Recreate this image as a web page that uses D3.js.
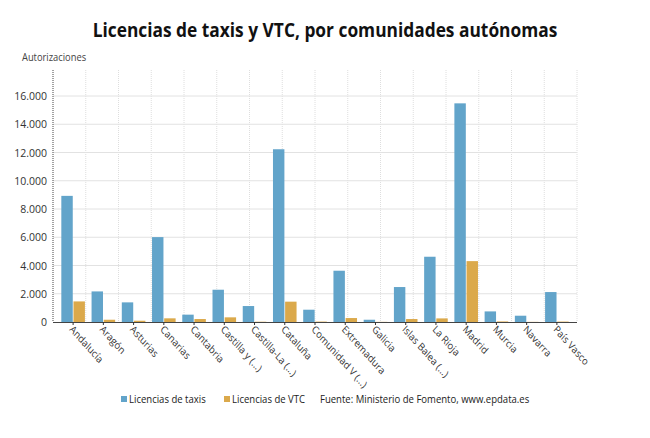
<!DOCTYPE html>
<html>
<head>
<meta charset="utf-8">
<script src="https://cdn.jsdelivr.net/npm/d3@7"></script>
<style>
  body { margin: 0; background: #fff; }
  svg { font-family: 'Open Sans', sans-serif; }
</style>
</head>
<body>
<div id="chart"></div>
<script>
const width = 650
const height = 438

const regions = ['Andalucía', 'Aragón', 'Asturias', 'Canarias', 'Cantabria', 'Castilla y (...)',
  'Castilla-La (...)', 'Cataluña', 'Comunidad V (...)', 'Extremadura', 'Galicia', 'Islas Balea (...)',
  'La Rioja', 'Madrid', 'Murcia', 'Navarra', 'País Vasco']
const taxis = [8930, 2165, 1390, 6010, 520, 2285, 1130, 12230, 870, 3630, 160, 2475, 4620, 15480, 750, 445, 2120]
const vtc = [1457, 160, 90, 260, 210, 330, 20, 1440, 30, 280, 10, 210, 255, 4310, 40, 10, 30]
const series = ['Licencias de taxis', 'Licencias de VTC']
const yTicks = [0, 2000, 4000, 6000, 8000, 10000, 12000, 14000, 16000]
const colors = ['#62a4ca', '#dba94b']
const source = 'Fuente: Ministerio de Fomento, www.epdata.es'

const plot = { left: 53, right: 577, top: 70, bottom: 322 }
const squeeze = 0.89 // text in the original is a bit narrow

const svg = d3.select('#chart').append('svg')
  .attr('width', width)
  .attr('height', height)

svg.append('text')
  .attr('transform', `translate(325,37) scale(${squeeze},1)`)
  .attr('text-anchor', 'middle')
  .attr('font-size', 19.5).attr('font-weight', 700)
  .attr('fill', '#111')
  .text('Licencias de taxis y VTC, por comunidades autónomas')

svg.append('text')
  .attr('transform', `translate(22,61) scale(${squeeze},1)`)
  .attr('font-size', 10.5).attr('fill', '#444')
  .text('Autorizaciones')

const y = d3.scaleLinear().domain([0, 16000]).range([plot.bottom, 96])
const x = d3.scaleBand().domain(regions).range([58, 572]).paddingInner(0.22).paddingOuter(0.11)
const xs = d3.scaleBand().domain(series).range([0, x.bandwidth()]).paddingInner(0.06)

// vertical grid (evenly spaced, independent of categories)
const vgrid = d3.range(17).map(i => plot.left + i * (plot.right - plot.left) / 16)
svg.append('g').selectAll('line')
  .data(vgrid)
  .enter().append('line')
    .attr('x1', d => d).attr('x2', d => d)
    .attr('y1', plot.top).attr('y2', plot.bottom)
    .attr('stroke', '#dedede').attr('stroke-dasharray', '1,1')

svg.append('g').selectAll('line')
  .data(yTicks.slice(1))
  .enter().append('line')
    .attr('x1', plot.left).attr('x2', plot.right)
    .attr('y1', d => y(d)).attr('y2', d => y(d))
    .attr('stroke', '#e2e2e2')

const fmt = d3.formatLocale({ decimal: ',', thousands: '.', grouping: [3], currency: ['', '€'] }).format(',')

svg.append('g').selectAll('text')
  .data(yTicks)
  .enter().append('text')
    .attr('x', 47).attr('y', d => y(d) + 4)
    .attr('text-anchor', 'end')
    .attr('font-size', 10.5).attr('fill', '#333')
    .text(d => fmt(d))

// bars
const groups = svg.append('g').selectAll('g')
  .data(regions.map((r, i) => ({ r, v: [taxis[i], vtc[i]] })))
  .enter().append('g')
    .attr('transform', d => `translate(${x(d.r)},0)`)

groups.selectAll('rect')
  .data(d => d.v.map((v, j) => ({ s: series[j], v, j })))
  .enter().append('rect')
    .attr('x', d => xs(d.s))
    .attr('width', xs.bandwidth())
    .attr('y', d => y(d.v))
    .attr('height', d => plot.bottom - y(d.v))
    .attr('fill', d => colors[d.j])

// axes lines
svg.append('line')
  .attr('x1', plot.left).attr('x2', plot.left)
  .attr('y1', plot.top).attr('y2', plot.bottom)
  .attr('stroke', '#555').attr('stroke-dasharray', '1,1')
svg.append('line')
  .attr('x1', plot.left).attr('x2', plot.right)
  .attr('y1', plot.bottom + 0.5).attr('y2', plot.bottom + 0.5)
  .attr('stroke', '#444')

const xl = svg.append('g').selectAll('g')
  .data(regions)
  .enter().append('g')
    .attr('transform', d => `translate(${x(d) + x.bandwidth() / 2},${plot.bottom})`)
xl.append('line')
  .attr('y1', 0).attr('y2', 3)
  .attr('stroke', '#333')
xl.append('text')
  .attr('transform', `translate(-4,8) scale(${squeeze},1) rotate(45)`)
  .attr('font-size', 10.5).attr('fill', '#333')
  .text(d => d)

// legend
const legend = [
  { t: series[0], x: 121, c: colors[0] },
  { t: series[1], x: 224, c: colors[1] }
]
const lg = svg.append('g').selectAll('g')
  .data(legend)
  .enter().append('g')
    .attr('transform', d => `translate(${d.x},0)`)
lg.append('rect')
  .attr('x', 0).attr('y', 396).attr('width', 6).attr('height', 6)
  .attr('fill', d => d.c)
lg.append('text')
  .attr('transform', `translate(8,403) scale(${squeeze + 0.02},1)`)
  .attr('font-size', 10.5).attr('fill', '#222')
  .text(d => d.t)

svg.append('text')
  .attr('transform', `translate(320,403) scale(${squeeze + 0.02},1)`)
  .attr('font-size', 10.5).attr('fill', '#222')
  .text(source)
</script>
</body>
</html>
